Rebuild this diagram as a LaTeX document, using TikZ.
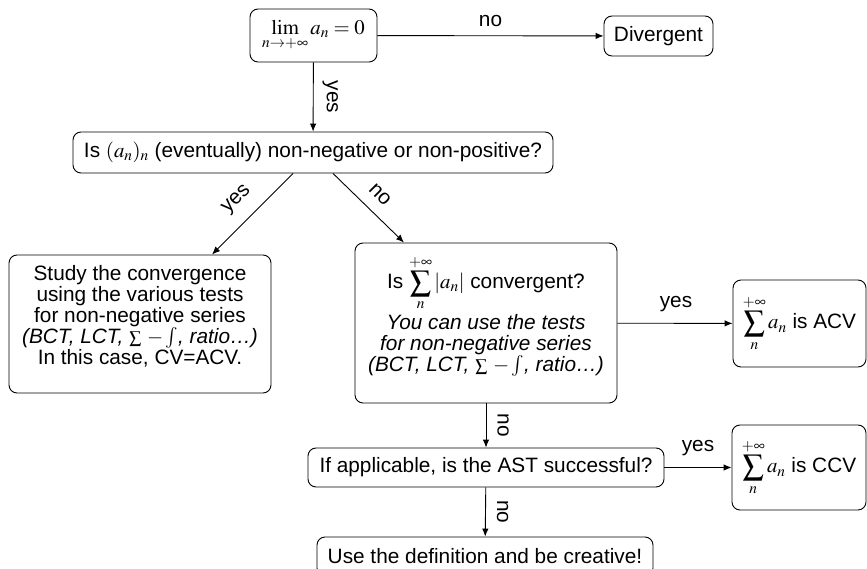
\documentclass[tikz,border=0pt]{standalone}
\usepackage{mathptmx}
\usepackage[no-math]{fontspec}
\setmainfont{Liberation Sans}
\usetikzlibrary{arrows.meta,calc}
\newcommand{\smsum}{{\fontsize{17}{17}\selectfont$\sum$}}
\begin{document}
\begin{tikzpicture}[x=1pt,y=-1pt,
  box/.style={draw, rounded corners=8pt, line width=0.9pt, align=center, inner sep=0pt,
    font=\fontsize{20.8}{21}\selectfont},
  txt/.style={align=center, inner sep=0pt, font=\fontsize{20.8}{21}\selectfont},
  arr/.style={-{Latex[length=8pt,width=6.5pt]}, line width=0.9pt},
  lbl/.style={font=\fontsize{20.8}{21}\selectfont, inner sep=0pt}]
\useasboundingbox (0,0) rectangle (867,569);
\clip (0,0) rectangle (867,569);

\node[box, minimum width=127pt, minimum height=53pt] (lim) at (313.5,35.5) {$\lim\limits_{n\to+\infty} a_n = 0$};
\node[box, minimum width=109pt, minimum height=40pt] (div) at (658.5,36) {Divergent};
\node[box, minimum width=480pt, minimum height=41pt] (q1) at (313,152.5) {Is $(a_n)_n$ (eventually) non-negative or non-positive?};
\node[box, minimum width=262pt, minimum height=138pt] (left) at (140,324) {};
\node[txt] (leftt) at (140,316) {Study the convergence\\using the various tests\\for non-negative series\\\textit{(BCT, LCT, \smsum\ $-\int$, ratio…)}\\In this case, CV=ACV.};
\node[box, minimum width=262pt, minimum height=160pt] (mid) at (486,323) {};
\node[txt] (midt) at (486,316) {Is $\displaystyle\sum_{n}^{+\infty} |a_n|$ convergent?\\[2pt]\textit{You can use the tests}\\\textit{for non-negative series}\\\textit{(BCT, LCT, \smsum\ $-\int$, ratio…)}};
\node[box, minimum width=133pt, minimum height=87pt] (acv) at (799.5,323.5) {$\displaystyle\sum_{n}^{+\infty} a_n$ is ACV};
\node[box, minimum width=356pt, minimum height=39pt] (ast) at (486,467.5) {If applicable, is the AST successful?};
\node[box, minimum width=134pt, minimum height=85pt] (ccv) at (799,467.5) {$\displaystyle\sum_{n}^{+\infty} a_n$ is CCV};
\node[box, minimum width=336pt, minimum height=39pt] (use) at (485,556.5) {Use the definition and be creative!};

\draw[arr] (lim) -- (div);
\node[lbl] (l1) at ($(lim.east)!0.5!(div.west)+(0,-15)$) {no};
\draw[arr] (lim) -- (q1);
\node[lbl, rotate=-90] (l2) at ($(lim.south)!0.5!(q1.north)+(17,0)$) {yes};
\draw[arr] ([xshift=-20pt]q1.south) -- ([xshift=72pt]left.north);
\node[lbl, rotate=45] (l3) at (237,200) {yes};
\draw[arr] ([xshift=20pt]q1.south) -- ([xshift=-82pt]mid.north);
\node[lbl, rotate=-45] (l4) at (380,195) {no};
\draw[arr] (mid) -- (acv);
\node[lbl] (l5) at ($(mid.east)!0.5!(acv.west)+(1,-19)$) {yes};
\draw[arr] (mid) -- (ast);
\node[lbl, rotate=-90] (l6) at ($(mid.south)!0.5!(ast.north)+(17,0)$) {no};
\draw[arr] (ast) -- (ccv);
\node[lbl] (l7) at ($(ast.east)!0.5!(ccv.west)+(0,-19)$) {yes};
\draw[arr] (ast) -- (use);
\node[lbl, rotate=-90] (l8) at ($(ast.south)!0.5!(use.north)+(17,0)$) {no};
\end{tikzpicture}
\end{document}
